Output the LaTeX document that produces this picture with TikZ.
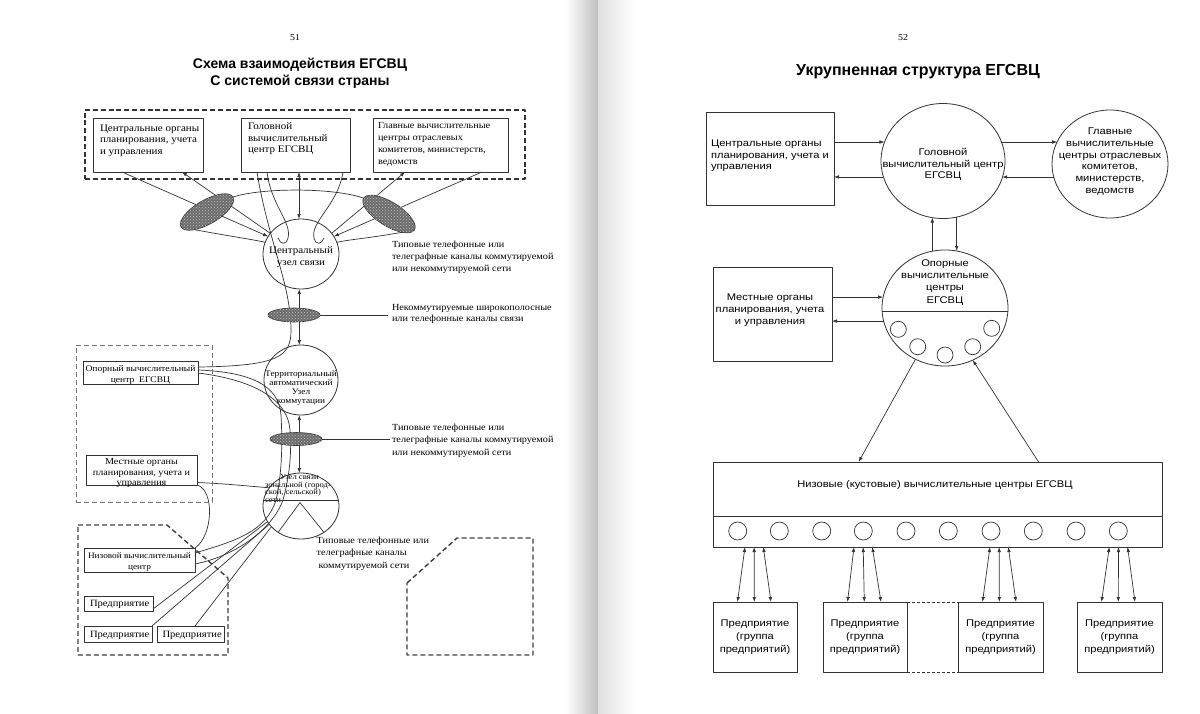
\documentclass[tikz,border=0pt]{standalone}
\usepackage{fontspec}
\setmainfont{Liberation Serif}
\newfontfamily\serw[FakeStretch=1.1]{Liberation Serif}
\newfontfamily\sanw[FakeStretch=1.15]{Liberation Sans}
\newfontfamily\sanb{Liberation Sans}
\usetikzlibrary{arrows.meta,shapes.geometric,calc,patterns}
\pgfdeclarelayer{bg}
\pgfsetlayers{bg,main}
\newcommand\fsz[2]{\fontsize{#1}{#2}\selectfont}
\tikzset{
  ln/.style={line width=0.7pt, draw=black!80},
  arr/.style={ln, -{Latex[length=5pt,width=3.6pt]}},
  darr/.style={ln, {Latex[length=5pt,width=3.6pt]}-{Latex[length=5pt,width=3.6pt]}},
  sbox/.style={draw=black!80, line width=0.8pt, rectangle, inner sep=0pt, outer sep=0pt},
  circ/.style={draw=black!80, line width=0.8pt, ellipse, inner sep=0pt, outer sep=0pt},
  scirc/.style={draw=black!80, line width=0.7pt, circle, inner sep=0pt, outer sep=0pt},
  grayell/.style={ellipse, draw=black!80, line width=0.6pt, fill=black!58, inner sep=0pt, outer sep=0pt, postaction={pattern=crosshatch dots, pattern color=gray!45}},
  txt/.style={inner sep=0pt, outer sep=0pt},
  dashthick/.style={draw=black!75, line width=1.4pt, dash pattern=on 5pt off 3pt},
}
\begin{document}
\begin{tikzpicture}[x=1pt,y=-1pt,line join=round]
\path[use as bounding box] (0,0) rectangle (1200,713);
\begin{pgfonlayer}{bg}
\fill[white] (0,0) rectangle (1200,713);
\shade[left color=white, right color=black!25] (566,0) rectangle (598,713);
\shade[left color=black!12, right color=white] (598,0) rectangle (634,713);
\end{pgfonlayer}

%================ LEFT PAGE =================
\node[txt, font=\serw\fsz{9}{10}] (p51) at (295,38) {51};
\node[txt, font=\sanb\bfseries\fsz{14}{17}, align=center] (t51) at (300,73.5) {Схема взаимодействия ЕГСВЦ\\С системой связи страны};

\node[sbox, line width=1.6pt, dash pattern=on 5pt off 2.8pt, minimum width=440pt, minimum height=69pt] (grp) at (305,144.5) {};
\node[sbox, minimum width=110pt, minimum height=54pt] (b1) at (148,145) {};
\node[sbox, minimum width=109pt, minimum height=54pt] (b2) at (295.5,145) {};
\node[sbox, minimum width=135pt, minimum height=54pt] (b3) at (440.5,145) {};
\node[txt, anchor=north west, align=left, font=\serw\fsz{10}{11.5}] (b1t) at (100,124.7) {Центральные органы\\планирования, учета\\и управления};
\node[txt, anchor=north west, align=left, font=\serw\fsz{10}{11.7}] (b2t) at (248,122.7) {Головной\\вычислительный\\центр ЕГСВЦ};
\node[txt, anchor=north west, align=left, font=\serw\fsz{9.3}{12.2}] (b3t) at (378,122) {Главные вычислительные\\центры отраслевых\\комитетов, министерств,\\ведомств};

\node[circ, minimum width=76pt, minimum height=70pt] (cu) at (301,254) {};
\node[circ, minimum width=74pt, minimum height=70pt] (ct) at (301,380) {};
\node[circ, minimum width=76pt, minimum height=66pt] (cl) at (301,506) {};

\node[sbox, draw=black!55, line width=0.7pt, dash pattern=on 5pt off 3pt, minimum width=136pt, minimum height=157pt] (grpL) at (144,423.5) {};
\node[sbox, minimum width=115pt, minimum height=23pt] (bo) at (140.5,372.5) {};
\node[sbox, minimum width=111pt, minimum height=30pt] (bm) at (141.5,470) {};
\node[sbox, minimum width=111pt, minimum height=24pt] (bn) at (139.5,560) {};
\node[sbox, minimum width=69pt, minimum height=15pt] (bp1) at (118.5,603.5) {};
\node[sbox, minimum width=68pt, minimum height=16pt] (bp2) at (118,634) {};
\node[sbox, minimum width=67pt, minimum height=16pt] (bp3) at (190.5,634) {};

% grey channel bundles
\node[grayell, minimum width=60pt, minimum height=24pt, rotate=30] (el1) at (207,212) {};
\node[grayell, minimum width=60pt, minimum height=24pt, rotate=-32] (el2) at (389,214) {};
\node[grayell, minimum width=52pt, minimum height=14pt] (em1) at (294,315) {};
\node[grayell, minimum width=52pt, minimum height=13pt] (em2) at (296,439) {};

\node[txt, anchor=north, align=center, font=\serw\fsz{10}{12}] (cut) at (301,246.7) {Центральный\\узел связи};
\node[txt, anchor=north west, align=left, font=\serw\fsz{9.3}{12.2}] (tx1) at (392,240.7) {Типовые телефонные или\\телеграфные каналы коммутируемой\\или некоммутируемой сети};
\node[txt, anchor=north west, align=left, font=\serw\fsz{9.3}{11}] (tx2) at (392,304.5) {Некоммутируемые широкополосные\\или телефонные каналы связи};
\node[txt, anchor=north, align=center, font=\serw\fsz{8.5}{9.2}] (ctt) at (301,370.5) {Территориальный\\автоматический\\Узел\\коммутации};
\node[txt, anchor=north, align=center, font=\serw\fsz{8.7}{11}] (bot) at (140.5,365.4) {Опорный вычислительный\\центр\ \ ЕГСВЦ};
\node[txt, anchor=north, align=center, font=\serw\fsz{9.2}{10.5}] (bmt) at (141.5,458.7) {Местные органы\\планирования, учета и\\управления};
\node[txt, anchor=north west, align=left, font=\serw\fsz{9.3}{12.5}] (tx3) at (392,423.6) {Типовые телефонные или\\телеграфные каналы коммутируемой\\или некоммутируемой сети};
\node[txt, anchor=north west, align=left, font=\serw\fsz{7.8}{7.4}] (clt) at (265,474.8) {\hspace*{15pt}Узел связи\\зональной (город-\\ской, сельской)\\сети};
\node[txt, anchor=north west, align=left, font=\serw\fsz{9.3}{12.3}] (tx4) at (316.7,537) {Типовые телефонные или\\телеграфные каналы\\\hspace*{2pt}коммутируемой сети};
\node[txt, anchor=north, align=center, font=\serw\fsz{8.4}{10.7}] (bnt) at (139.5,553.2) {Низовой вычислительный\\центр};
\node[txt, anchor=west, font=\serw\fsz{9.6}{10}] (bp1t) at (90,604) {Предприятие};
\node[txt, anchor=west, font=\serw\fsz{9.6}{10}] (bp2t) at (90,635) {Предприятие};
\node[txt, anchor=west, font=\serw\fsz{9.6}{10}] (bp3t) at (162.5,635) {Предприятие};

\coordinate (a1) at ($(b1.south west)+(29,0)$);
\coordinate (a2) at ($(b1.south west)+(89,0)$);
\coordinate (a3) at ($(b3.south west)+(109,0)$);
\coordinate (a4) at ($(b3.south west)+(32,0)$);
\coordinate (v1) at ($(b2.south west)+(58,0)$);
\coordinate (h0) at ($(b2.south west)+(16,0)$);
\coordinate (h1) at ($(b2.south west)+(26,0)$);
\coordinate (h2) at ($(b2.south west)+(102,0)$);

\begin{pgfonlayer}{bg}
\draw[arr] (a1) -- (cu.152);
\draw[arr] (cu.146) -- (a2);
\draw[arr] (a3) -- (cu.28);
\draw[arr] (cu.34) -- (a4);
\draw[darr] (v1) -- (v1 |- cu.north);
\draw[ln] (h1) .. controls +(4,33) and +(4,-16) .. ($(cu.center)+(-13,-16)$) .. controls +(-2,8) and +(2,6) .. ($(cu.center)+(-23,-16)$);
\draw[ln] (h2) .. controls +(-5,33) and +(-4,-16) .. ($(cu.center)+(13,-16)$) .. controls +(2,8) and +(-2,6) .. ($(cu.center)+(23,-16)$);
\draw[ln] (h0) .. controls +(11,68) and +(0,-45) .. ($(ct.north)+(-10,-15)$) .. controls +(0,26) and +(82,-1) .. ($(bo.north east)+(0,6)$);
\draw[ln] (el1.east) .. controls +(30,-9.5) and +(-30,-10.5) .. (el2.west);
\draw[ln] (el1.west) .. controls +(40,8) and +(-12,-3) .. (cu.162);
\draw[ln] (el2.east) .. controls +(-40,8) and +(12,-3) .. (cu.18);
\draw[ln] (em1.east) -- ($(em1.east -| tx2.west)+(-4,0)$);
\draw[darr] ($(cu.south)+(-1.7,0)$) -- ($(ct.north)+(-1.7,0)$);
\draw[ln] ($(bo.north east)+(0,9)$) .. controls +(52,2) and +(-2,-30) .. ($(ct.center)+(-20,35)$) .. controls +(2,35) and +(5,-22) .. ($(cl.center)+(-25,-6)$) .. controls +(-10,32) and +(40,-12) .. ($(bn.north east)+(0,5)$);
\draw[ln] ($(bo.north east)+(0,12)$) .. controls +(57,7) and +(-2,-30) .. ($(ct.center)+(-11,50)$) .. controls +(2,25) and +(6,-22) .. ($(cl.center)+(-18,-6)$) .. controls +(-11,30) and +(40,-8) .. ($(bn.south east)+(0,-8)$);
\draw[ln] ($(bm.south east)+(0,-2.5)$) .. controls +(28,1) and +(-15,-1) .. (cl.150);
\draw[ln] (bm.south east) .. controls +(18,5) and +(18,-12) .. (bn.north east);
\draw[ln] (cl.205) -- ($(bp1.south east)+(0,-2)$);
\draw[ln] (cl.210) -- (bp2.north east);
\draw[ln] (cl.215) -- ($(bp3.north west)+(38,0)$);
\draw[ln] (em2.east) -- ($(em2.east -| tx3.west)+(-2,0)$);
\draw[darr] ($(ct.south)+(-1.7,0)$) -- ($(cl.north)+(-1.7,0)$);
\end{pgfonlayer}

\draw[ln] (cl.171) -- (cl.9);
\draw[ln] (cl.229) -- ($(cl.center)+(-1,-3.5)$) -- (cl.311);
\draw[dashthick] (78,525) -- (167,525) -- (228,578) -- (228,655) -- (78,655) -- cycle;
\draw[dashthick] (407,583) -- (457,538) -- (533,538) -- (533,655) -- (407,655) -- cycle;

%================ RIGHT PAGE =================
\node[txt, font=\serw\fsz{9}{10}] (p52) at (903,38) {52};
\node[txt, font=\sanb\bfseries\fsz{16}{18}] (t52) at (918,72) {Укрупненная структура ЕГСВЦ};

\node[sbox, minimum width=128pt, minimum height=93pt] (bl1) at (770,158.5) {};
\node[txt, anchor=north west, align=left, font=\sanw\fsz{9.7}{11.7}] (bl1t) at (711,139.8) {Центральные органы\\планирования, учета и\\управления};
\node[circ, minimum width=124pt, minimum height=115pt] (cg) at (943,161) {};
\node[txt, anchor=north, align=center, font=\sanw\fsz{9.7}{11.7}] (cgt) at (943,148.2) {Головной\\вычислительный центр\\ЕГСВЦ};
\node[circ, minimum width=116pt, minimum height=108pt] (cr) at (1110,164) {};
\node[txt, anchor=north, align=center, font=\sanw\fsz{9.7}{11.7}] (crt) at (1110,128.2) {Главные\\вычислительные\\центры отраслевых\\комитетов,\\министерств,\\ведомств};

\draw[arr] (bl1.east |- cg.162) -- (cg.162);
\draw[arr] (cg.195.5) -- (bl1.east |- cg.195.5);
\draw[arr] (cg.18) -- (cg.18 -| cr.157.5);
\draw[arr] (cr.193) -- (cr.193 -| cg.344.5);

\node[circ, minimum width=126pt, minimum height=116pt] (co) at (945,308) {};
\draw[arr] ($(co.north)+(-12.7,1)$) -- ($(cg.south)+(-10.7,-0.9)$);
\draw[arr] ($(cg.south)+(13.7,-1.4)$) -- ($(co.north)+(11.7,1)$);
\draw[ln, line width=0.8pt] (co.183) -- (co.357);
\node[txt, anchor=north, align=center, font=\sanw\fsz{9.7}{12.2}] (cot) at (945,259.8) {Опорные\\вычислительные\\центры\\ЕГСВЦ};
\node[scirc, minimum size=16pt] (s1) at (898.3,329.3) {};
\node[scirc, minimum size=16pt] (s2) at (917.7,346.7) {};
\node[scirc, minimum size=16pt] (s3) at (945,355) {};
\node[scirc, minimum size=16pt] (s4) at (972.7,346.7) {};
\node[scirc, minimum size=16pt] (s5) at (991.7,328.3) {};

\node[sbox, minimum width=119pt, minimum height=94pt] (bm2) at (772.5,314) {};
\node[txt, anchor=north, align=center, font=\sanw\fsz{9.7}{12}] (bm2t) at (770,294.2) {Местные органы\\планирования, учета\\и управления};
\draw[arr] (bm2.east |- co.170.6) -- (co.170.6);
\draw[arr] (co.192) -- (bm2.east |- co.192);

\node[sbox, minimum width=449pt, minimum height=85pt] (bz) at (937.5,504.5) {};
\draw[ln, line width=0.8pt] ($(bz.north west)+(0,54)$) -- ($(bz.north east)+(0,54)$);
\node[txt, font=\sanw\fsz{9.7}{11.7}] (bzt) at (935,485) {Низовые (кустовые) вычислительные центры ЕГСВЦ};
\foreach \i/\x in {1/737.7,2/779.3,3/821.7,4/863.3,5/906,6/948.3,7/991,8/1033.3,9/1076,10/1118.3}
  \node[scirc, minimum size=18pt] (z\i) at (\x,531) {};
\draw[arr] (co.240) -- ($(bz.north west)+(145.6,0)$);
\draw[arr] ($(bz.north west)+(325.6,0)$) -- (co.298);

\node[sbox, minimum width=84pt, minimum height=70pt, align=center, font=\sanw\fsz{9.7}{13}] (be1) at (755,637) {Предприятие\\(группа\\предприятий)};
\node[sbox, minimum width=84pt, minimum height=70pt, align=center, font=\sanw\fsz{9.7}{13}] (be2) at (865,637) {Предприятие\\(группа\\предприятий)};
\node[sbox, minimum width=85pt, minimum height=70pt, align=center, font=\sanw\fsz{9.7}{13}] (be3) at (1000.5,637) {Предприятие\\(группа\\предприятий)};
\node[sbox, minimum width=85pt, minimum height=70pt, align=center, font=\sanw\fsz{9.7}{13}] (be4) at (1119.5,637) {Предприятие\\(группа\\предприятий)};
\draw[ln, dash pattern=on 3pt off 2pt] (be2.north east) -- (be3.north west);
\draw[ln, dash pattern=on 3pt off 2pt] (be2.south east) -- (be3.south west);
\foreach \b/\t in {be1/32,be2/141,be3/277,be4/396.3} {
  \draw[darr] ($(bz.south west)+(\t,0)$) -- ($(\b.north west)+(24.5,0)$);
  \draw[darr] ($(bz.south west)+(\t+9.2,0)$) -- ($(\b.north west)+(41.3,0)$);
  \draw[darr] ($(bz.south west)+(\t+18.3,0)$) -- ($(\b.north west)+(58,0)$);
}
\end{tikzpicture}
\end{document}
